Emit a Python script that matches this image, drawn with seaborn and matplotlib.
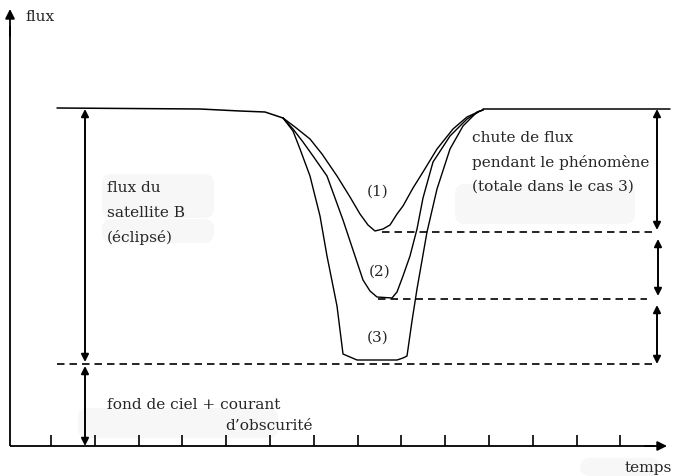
import numpy as np
import pandas as pd
import matplotlib
matplotlib.use("Agg")
import matplotlib.pyplot as plt
import seaborn as sns
from matplotlib.patches import FancyBboxPatch

# ---- data (arbitrary units: time along x, flux along y, origin at the axes corner) ----
# flat flux before and after the eclipse
pre_t = [47, 190, 230, 255, 273]
pre_f = [338, 337, 335, 334, 328]
post_t = [473, 660]
post_f = [337, 337]

# three eclipse light curves (1) partial, (2) deeper, (3) total
c1_t = [273, 285, 300, 312, 327, 340, 350, 358, 365, 373, 380, 387, 393, 403, 413, 427, 443, 457, 470, 473]
c1_f = [328, 319, 307, 292, 270, 249, 232, 221, 215, 217, 221, 232, 240, 258, 274, 297, 317, 329, 335, 336]
c2_t = [273, 283, 293, 303, 317, 333, 345, 353, 360, 367, 382, 387, 393, 400, 407, 413, 423, 440, 457, 470, 473]
c2_f = [328, 317, 304, 290, 270, 226, 190, 166, 155, 149, 148, 154, 170, 190, 217, 248, 284, 310, 327, 335, 336]
c3_t = [273, 283, 290, 300, 310, 317, 327, 333, 340, 347, 387, 393, 397, 402, 407, 417, 427, 440, 453, 467, 473]
c3_f = [328, 315, 297, 270, 230, 190, 140, 92, 89, 86, 86, 88, 90, 125, 157, 214, 257, 297, 320, 334, 336]

# levels (flux) marked by dashed lines
top_level = 337
min_levels = [214, 147, 82]          # minima of cases 1, 2, 3 (3 = sky background)
dash_start = [372, 368, 47]
dash_end = [643, 637, 643]
sky_level = 82

# time ticks
tick_t = [41 + 43.8 * i for i in range(14)]

labels_case = ["(1)", "(2)", "(3)"]
case_pos = [(368, 255), (370, 175), (368, 109)]

# ---- figure ----
sns.set_theme(style="white")
plt.rcParams["font.family"] = ["DejaVu Serif", "DejaVu Sans"]

fig = plt.figure(figsize=(6.75, 4.77), dpi=100)
ax = fig.add_axes([0, 0, 1, 1])
ax.set_xlim(-10, 665)
ax.set_ylim(-30, 447)
for s in ax.spines.values():
    s.set_visible(False)
ax.set_xticks([])
ax.set_yticks([])
ax.set_facecolor("white")

# faint background blobs (as in the original scan)
blob = dict(facecolor="#f7f7f7", edgecolor="none")
for (x0, y0, w, h) in [(92, 228, 112, 44), (92, 203, 112, 24), (445, 222, 180, 40),
                       (68, 8, 200, 30), (570, -30, 80, 18)]:
    ax.add_patch(FancyBboxPatch((x0, y0), w, h, boxstyle="round,pad=0,rounding_size=10", **blob, zorder=0))

# axes lines with arrows
ax.plot([0, 0], [0, 420], color="black", lw=1.3, solid_capstyle="butt")
ax.plot([0, 645], [0, 0], color="black", lw=1.3, solid_capstyle="butt")
ax.annotate("", xy=(0, 437), xytext=(0, 410),
            arrowprops=dict(arrowstyle="-|>", color="black", lw=1.3, mutation_scale=14,
                            shrinkA=0, shrinkB=0))
ax.annotate("", xy=(657, 0), xytext=(635, 0),
            arrowprops=dict(arrowstyle="-|>", color="black", lw=1.3, mutation_scale=14,
                            shrinkA=0, shrinkB=0))
ax.vlines(tick_t, 0, 11, color="black", lw=1.2)

# flux curves
sns.lineplot(x=pre_t, y=pre_f, color="black", lw=1.1, sort=False, estimator=None, ax=ax)
sns.lineplot(x=post_t, y=post_f, color="black", lw=1.1, sort=False, estimator=None, ax=ax)
curves = pd.DataFrame({
    "t": c1_t + c2_t + c3_t,
    "f": c1_f + c2_f + c3_f,
    "case": ["1"] * len(c1_t) + ["2"] * len(c2_t) + ["3"] * len(c3_t),
})
sns.lineplot(data=curves, x="t", y="f", hue="case", palette=["black"] * 3,
             lw=1.0, sort=False, estimator=None, legend=False, ax=ax)

# dashed levels
for lv, a, b in zip(min_levels, dash_start, dash_end):
    ax.plot([a, b], [lv, lv], color="black", lw=1.2, linestyle=(0, (4.5, 3.0)))

# double arrows
def darrow(x, y0, y1):
    ax.annotate("", xy=(x, y1), xytext=(x, y0),
                arrowprops=dict(arrowstyle="<|-|>", color="black", lw=1.4,
                                mutation_scale=11, shrinkA=0, shrinkB=0))

darrow(75, sky_level + 2, top_level)
darrow(75, 0, sky_level - 2)
darrow(647, min_levels[0] + 2, top_level)
darrow(648, min_levels[1] + 3, min_levels[0] - 7)
darrow(647, min_levels[2], min_levels[1] - 6)

# texts
fs = 11.1
ax.text(15, 430, "flux", fontsize=fs, va="center", ha="left")
ax.text(662, -21, "temps", fontsize=fs, va="center", ha="right")
for i, line in enumerate(["flux du", "satellite B", "(éclipsé)"]):
    ax.text(97, 259 - 25 * i, line, fontsize=fs, va="center", ha="left")
for i, line in enumerate(["chute de flux", "pendant le phénomène", "(totale dans le cas 3)"]):
    ax.text(462, 309 - 24.5 * i, line, fontsize=fs, va="center", ha="left")
ax.text(97, 42, "fond de ciel + courant", fontsize=fs, va="center", ha="left")
ax.text(215, 21, "d\u2019obscurité", fontsize=fs, va="center", ha="left")
for lab, (x, y) in zip(labels_case, case_pos):
    ax.text(x, y, lab, fontsize=fs, va="center", ha="center")

fig.savefig("out.png", dpi=100, facecolor="white")
